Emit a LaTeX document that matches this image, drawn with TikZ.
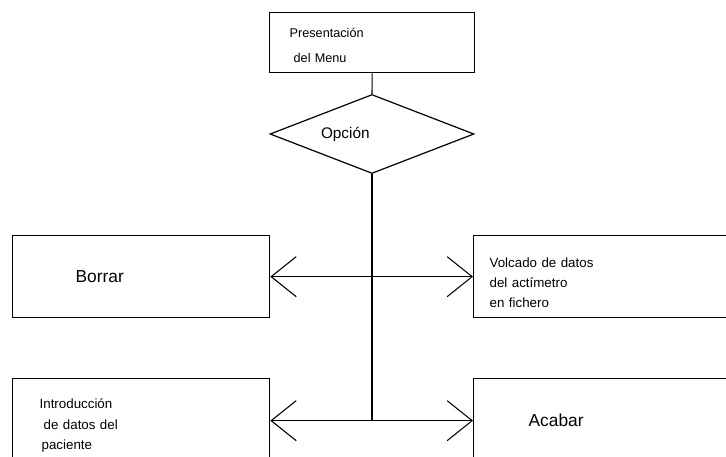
\documentclass[tikz,border=0pt]{standalone}
\usepackage{fontspec}
\setmainfont{Liberation Sans}
\usetikzlibrary{shapes.geometric,arrows.meta,positioning,calc}
\tikzset{
  menubox/.style={draw,line width=1pt,rectangle,anchor=north west,align=left,
                  inner ysep=0pt,minimum height=61.5pt},
  menuopt/.style={draw,line width=0.9pt,diamond,aspect=2.58,inner sep=0pt,
                  minimum width=153pt,minimum height=59.25pt},
  menuline/.style={line width=0.8pt},
  menuflow/.style={menuline,-{Straight Barb[length=18.75pt,width=30pt,line width=0.8pt]}},
  smalltxt/.style={font=\fontsize{9.5}{18.75}\selectfont},
  bigtxt/.style={font=\fontsize{13}{15}\selectfont},
}
\begin{document}
\begin{tikzpicture}[x=0.75pt,y=-0.75pt]
  \useasboundingbox (0,0) rectangle (726,457);
  \clip (0,0) rectangle (726,457);

  \node[menubox,smalltxt,minimum width=153.75pt,minimum height=45pt,
        inner xsep=15pt,text width=123.75pt] (menu) at (269,12)
        {\rule{0pt}{10.5pt}Presentación\\\hspace*{3pt}del Menu};
  \node[menuopt,font=\fontsize{11.5}{14}\selectfont] (opt) at (372,134)
        {Opción\hspace*{40pt}};

  \node[menubox,bigtxt,minimum width=192.75pt,inner xsep=47.25pt,
        text width=98.25pt] (borrar) at (12,235) {Borrar};
  \node[menubox,font=\fontsize{10}{15}\selectfont,minimum width=215.25pt,
        inner xsep=12pt,text width=191.25pt] (volcado) at (473,235)
        {\rule{0pt}{17pt}Volcado de datos\\del actímetro\\en fichero};
  \node[menubox,font=\fontsize{10}{15.4}\selectfont,minimum width=192.75pt,
        minimum height=63pt,inner xsep=20.25pt,text width=152.25pt] (intro) at (12,378)
        {\rule{0pt}{15pt}Introducción\\\hspace*{3pt}de datos del\\\hspace*{1.5pt}paciente};
  \node[menubox,bigtxt,minimum width=215.25pt,minimum height=63pt,
        inner xsep=41.25pt,text width=132.75pt] (acabar) at (473,378) {Acabar};

  \coordinate (jtop) at (opt.south |- borrar.east);
  \coordinate (jbot) at (opt.south |- intro.east);

  \draw[menuline] (menu.south) -- (opt.north);
  \draw[menuline] (opt.south) -- (jbot);
  \foreach \a/\b in {jtop/borrar,jtop/volcado,jbot/intro,jbot/acabar}{\draw[menuflow] (\a)--(\b);}
\end{tikzpicture}
\end{document}
